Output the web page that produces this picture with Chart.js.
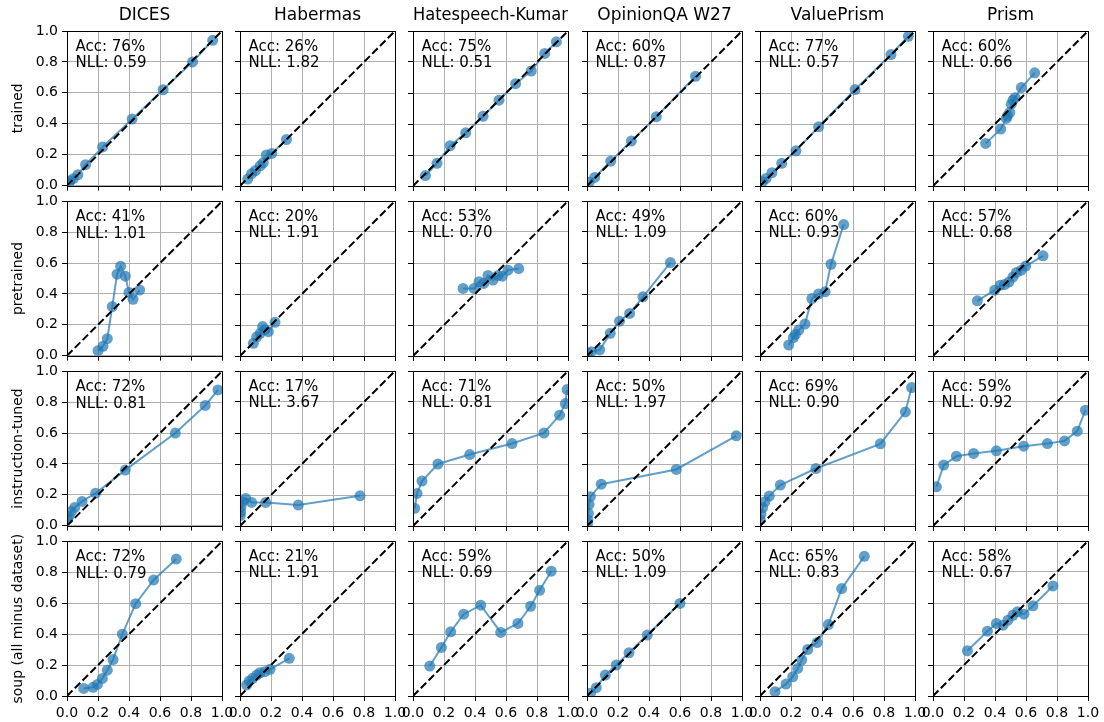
<!DOCTYPE html>
<html>
<head>
<meta charset="utf-8">
<title>Calibration curves</title>
<script src="https://cdn.jsdelivr.net/npm/chart.js@4.4.1/dist/chart.umd.min.js"></script>
<style>
  html, body { margin: 0; padding: 0; background: #fff; }
  #grid { position: relative; width: 1104px; height: 722px; overflow: hidden; background: #fff; }
  #grid canvas { position: absolute; }
</style>
</head>
<body>
<div id="grid"></div>
<script>
// Column (dataset) and row (model) labels
const datasetNames = ['DICES', 'Habermas', 'Hatespeech-Kumar', 'OpinionQA W27', 'ValuePrism', 'Prism'];
const modelRows = ['trained', 'pretrained', 'instruction-tuned', 'soup (all minus dataset)'];
const tickValues = [0, 0.2, 0.4, 0.6, 0.8, 1.0];
const tickLabels = ['0.0', '0.2', '0.4', '0.6', '0.8', '1.0'];

// Accuracy (%) and NLL per row, one entry per dataset column
const accTrained = [76, 26, 75, 60, 77, 60];
const nllTrained = [0.59, 1.82, 0.51, 0.87, 0.57, 0.66];
const accPretrained = [41, 20, 53, 49, 60, 57];
const nllPretrained = [1.01, 1.91, 0.70, 1.09, 0.93, 0.68];
const accInstruct = [72, 17, 71, 50, 69, 59];
const nllInstruct = [0.81, 3.67, 0.81, 1.97, 0.90, 0.92];
const accSoup = [72, 21, 59, 50, 65, 58];
const nllSoup = [0.79, 1.91, 0.69, 1.09, 0.83, 0.67];

// Calibration curves: [mean predicted probability, observed frequency] per bin
const trainedCurves = [
  [[0.01,0.015],[0.02,0.03],[0.04,0.045],[0.07,0.07],[0.12,0.135],[0.23,0.25],[0.42,0.43],[0.62,0.62],[0.81,0.80],[0.94,0.94]],
  [[0.05,0.045],[0.075,0.08],[0.10,0.10],[0.13,0.13],[0.15,0.15],[0.17,0.20],[0.205,0.21],[0.30,0.30]],
  [[0.08,0.067],[0.155,0.146],[0.24,0.26],[0.34,0.343],[0.452,0.45],[0.555,0.554],[0.662,0.66],[0.763,0.742],[0.85,0.855],[0.925,0.93]],
  [[0.015,0.025],[0.05,0.055],[0.153,0.16],[0.286,0.29],[0.447,0.446],[0.70,0.708]],
  [[0.017,0.028],[0.039,0.049],[0.077,0.086],[0.14,0.146],[0.232,0.227],[0.378,0.382],[0.613,0.622],[0.845,0.848],[0.957,0.966]],
  [[0.34,0.275],[0.437,0.367],[0.473,0.436],[0.48,0.453],[0.495,0.474],[0.505,0.528],[0.516,0.554],[0.53,0.57],[0.57,0.635],[0.656,0.73]]
];
const pretrainedCurves = [
  [[0.2,0.032],[0.232,0.06],[0.26,0.11],[0.292,0.318],[0.323,0.528],[0.346,0.58],[0.376,0.515],[0.4,0.41],[0.426,0.365],[0.469,0.425]],
  [[0.086,0.082],[0.108,0.124],[0.13,0.146],[0.146,0.19],[0.16,0.17],[0.183,0.157],[0.226,0.217]],
  [[0.323,0.436],[0.394,0.436],[0.426,0.479],[0.456,0.468],[0.484,0.52],[0.516,0.49],[0.548,0.52],[0.576,0.515],[0.613,0.554],[0.682,0.564]],
  [[0.006,0.017],[0.028,0.028],[0.082,0.039],[0.15,0.146],[0.21,0.225],[0.275,0.275],[0.361,0.382],[0.538,0.603]],
  [[0.185,0.071],[0.215,0.118],[0.228,0.139],[0.25,0.167],[0.29,0.206],[0.335,0.371],[0.378,0.40],[0.42,0.414],[0.458,0.592],[0.54,0.848]],
  [[0.286,0.356],[0.398,0.425],[0.434,0.457],[0.462,0.461],[0.49,0.478],[0.516,0.51],[0.538,0.539],[0.57,0.554],[0.598,0.58],[0.71,0.646]]
];
const instructCurves = [
  [[0.004,0.04],[0.013,0.06],[0.028,0.092],[0.05,0.118],[0.097,0.157],[0.185,0.21],[0.376,0.36],[0.699,0.60],[0.892,0.779],[0.974,0.88]],
  [[0.002,0.067],[0.004,0.092],[0.006,0.124],[0.017,0.157],[0.037,0.178],[0.075,0.152],[0.166,0.152],[0.376,0.135],[0.774,0.195]],
  [[0.011,0.114],[0.026,0.21],[0.058,0.29],[0.161,0.40],[0.366,0.461],[0.639,0.532],[0.845,0.60],[0.946,0.715],[0.983,0.79],[0.994,0.88]],
  [[0.004,0.017],[0.006,0.039],[0.009,0.082],[0.013,0.139],[0.022,0.189],[0.092,0.27],[0.576,0.365],[0.963,0.582]],
  [[0.002,0.039],[0.006,0.077],[0.017,0.118],[0.032,0.157],[0.06,0.193],[0.131,0.264],[0.361,0.371],[0.776,0.53],[0.938,0.736],[0.978,0.893]],
  [[0.022,0.253],[0.069,0.393],[0.151,0.45],[0.262,0.468],[0.409,0.485],[0.585,0.515],[0.738,0.532],[0.849,0.549],[0.931,0.612],[0.983,0.747]]
];
const soupCurves = [
  [[0.108,0.049],[0.168,0.056],[0.196,0.075],[0.228,0.114],[0.26,0.167],[0.297,0.236],[0.357,0.40],[0.443,0.597],[0.559,0.751],[0.705,0.886]],
  [[0.043,0.071],[0.06,0.097],[0.082,0.114],[0.108,0.135],[0.129,0.15],[0.161,0.157],[0.194,0.172],[0.318,0.243]],
  [[0.108,0.193],[0.183,0.313],[0.243,0.414],[0.327,0.528],[0.437,0.586],[0.566,0.41],[0.677,0.468],[0.759,0.579],[0.817,0.682],[0.892,0.805]],
  [[0.022,0.017],[0.06,0.054],[0.118,0.135],[0.189,0.20],[0.271,0.279],[0.389,0.393],[0.60,0.597]],
  [[0.097,0.028],[0.168,0.077],[0.211,0.124],[0.243,0.178],[0.269,0.232],[0.308,0.30],[0.368,0.345],[0.441,0.461],[0.527,0.693],[0.673,0.901]],
  [[0.222,0.292],[0.351,0.418],[0.409,0.468],[0.452,0.457],[0.484,0.489],[0.516,0.521],[0.544,0.543],[0.587,0.528],[0.645,0.582],[0.774,0.71]]
];

const rowCurves = [trainedCurves, pretrainedCurves, instructCurves, soupCurves];
const rowAcc = [accTrained, accPretrained, accInstruct, accSoup];
const rowNll = [nllTrained, nllPretrained, nllInstruct, nllSoup];

// ---- layout of the 4 x 6 panel grid ----
const FONT = 'DejaVu Sans';
const PANEL = 155;
const colLeft = [67, 240, 413, 587, 760, 933];
const rowTop = [31, 201, 371, 541];
const BLUE = 'rgba(31,119,180,0.7)';

Chart.defaults.font.family = FONT;
Chart.defaults.color = '#000';

// Accuracy / NLL note in the upper-left corner of each panel
const statsText = {
  id: 'statsText',
  afterDatasetsDraw(chart, args, opts) {
    const { ctx, chartArea } = chart;
    ctx.save();
    ctx.font = '15px "' + FONT + '"';
    ctx.fillStyle = '#000';
    ctx.textAlign = 'left';
    ctx.textBaseline = 'alphabetic';
    ctx.fillText(opts.lines[0], chartArea.left + 8.5, chartArea.top + 20);
    ctx.fillText(opts.lines[1], chartArea.left + 8.5, chartArea.top + 36.3);
    ctx.restore();
  }
};

// Four-sided axes frame
const frame = {
  id: 'frame',
  afterDraw(chart) {
    const { ctx, chartArea } = chart;
    const a = v => Math.round(v) + 0.5;
    ctx.save();
    ctx.strokeStyle = '#000';
    ctx.lineWidth = 1;
    const l = a(chartArea.left), t = a(chartArea.top), r = a(chartArea.right), b = a(chartArea.bottom);
    ctx.strokeRect(l, t, r - l, b - t);
    ctx.restore();
  }
};

const grid = document.getElementById('grid');

function axis(showLabels, fitSize, horizontal, titleText) {
  return {
    type: 'linear',
    min: 0,
    max: 1,
    border: { display: false },
    grid: { color: '#b0b0b0', lineWidth: 1, tickColor: '#000', tickLength: 5, tickWidth: 1, drawTicks: true },
    afterBuildTicks: s => { s.ticks = tickValues.map(v => ({ value: v })); },
    ticks: {
      display: showLabels,
      autoSkip: false,
      maxRotation: 0,
      padding: 4,
      color: '#000',
      font: { family: FONT, size: 14 },
      callback: v => tickLabels[Math.round(v * 5)]
    },
    title: titleText ? {
      display: true, text: titleText, color: '#000',
      font: { family: FONT, size: 14 }, padding: { top: 10, bottom: 0 }
    } : { display: false },
    afterFit: s => { if (horizontal) s.height = fitSize; else s.width = fitSize; }
  };
}

for (let r = 0; r < 4; r++) {
  for (let c = 0; c < 6; c++) {
    const padL = c === 0 ? 67 : 20;
    const padR = 20;
    const padT = r === 0 ? 31 : 12;
    const padB = r === 3 ? 26 : 12;
    const cv = document.createElement('canvas');
    const w = padL + PANEL + padR, h = padT + PANEL + padB;
    cv.width = w; cv.height = h;
    cv.style.width = w + 'px'; cv.style.height = h + 'px';
    cv.style.left = (colLeft[c] - padL) + 'px';
    cv.style.top = (rowTop[r] - padT) + 'px';
    grid.appendChild(cv);

    const pts = rowCurves[r][c].map(([x, y]) => ({ x, y }));

    new Chart(cv, {
      type: 'line',
      data: {
        datasets: [
          {
            data: [{ x: 0, y: 0 }, { x: 1, y: 1 }],
            borderColor: '#000', borderWidth: 2, borderDash: [7.7, 3.3],
            pointRadius: 0, order: 0, clip: 0, tension: 0
          },
          {
            data: pts,
            borderColor: BLUE, borderWidth: 2, tension: 0,
            pointRadius: 5.5, pointBackgroundColor: BLUE, pointBorderWidth: 0,
            order: 1, clip: 0
          }
        ]
      },
      options: {
        responsive: false,
        animation: false,
        devicePixelRatio: 1,
        events: [],
        layout: { padding: { left: 0, right: padR, top: r === 0 ? 0 : padT, bottom: 0 } },
        scales: {
          x: axis(r === 3, padB, true, null),
          y: axis(c === 0, padL, false, c === 0 ? modelRows[r] : null)
        },
        plugins: {
          legend: { display: false },
          tooltip: { enabled: false },
          title: {
            display: r === 0,
            text: datasetNames[c],
            color: '#000',
            fullSize: false,
            font: { family: FONT, size: 17, weight: 'normal' },
            padding: { top: 5, bottom: 5.6 }
          },
          statsText: {
            lines: ['Acc: ' + rowAcc[r][c] + '%', 'NLL: ' + rowNll[r][c].toFixed(2)]
          }
        }
      },
      plugins: [statsText, frame]
    });
  }
}
</script>
</body>
</html>
